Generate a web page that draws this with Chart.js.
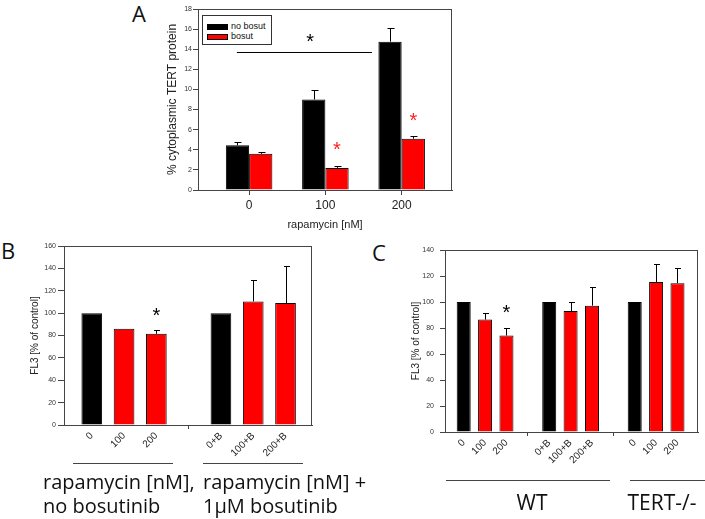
<!DOCTYPE html>
<html lang="en">
<head>
<meta charset="utf-8">
<title>TERT localisation, rapamycin and bosutinib</title>
<script src="https://cdn.jsdelivr.net/npm/chart.js@4.4.1/dist/chart.umd.min.js"></script>
<style>
  body { margin: 0; width: 705px; height: 519px; position: relative; background: #fff; overflow: hidden;
         font-family: "Open Sans", "Noto Sans", sans-serif; color: #111; }
  canvas, .abs { position: absolute; }
  .letter { font-size: 22px; line-height: 22px; }
  .big { font-size: 20px; line-height: 24px; white-space: nowrap; }
  .rule { height: 1px; background: #444; }
  .legend { border: 1px solid #333; background: #fff; font-family: "Liberation Sans", Arial, sans-serif;
            font-size: 9px; line-height: 10px; }
  .legend .sw { display: inline-block; width: 19px; height: 4px; border: 1px solid #000; vertical-align: middle; margin-right: 3px; }
</style>
</head>
<body>
<div class="abs letter" style="left:132px;top:2px">A</div>
<div class="abs letter" style="left:1px;top:239px">B</div>
<div class="abs letter" style="left:372px;top:241px">C</div>

<canvas id="chartA" width="355" height="240" style="left:110px;top:0"></canvas>
<canvas id="chartB" width="330" height="235" style="left:0;top:230px"></canvas>
<canvas id="chartC" width="325" height="230" style="left:380px;top:235px"></canvas>

<div class="abs legend" style="left:202px;top:15px;width:68px;height:28px;padding:0">
  <div style="position:absolute;left:4px;top:5px"><span class="sw" style="background:#000"></span>no bosut</div>
  <div style="position:absolute;left:4px;top:15px"><span class="sw" style="background:#ff0000"></span>bosut</div>
</div>

<div class="abs rule" style="left:73px;top:463px;width:100px"></div>
<div class="abs rule" style="left:203px;top:463px;width:100px"></div>
<div class="abs big" style="left:43px;top:470px">rapamycin [nM],<br>no bosutinib</div>
<div class="abs big" style="left:203px;top:470px">rapamycin [nM] +<br>1&mu;M bosutinib</div>

<div class="abs rule" style="left:446px;top:480px;width:164px"></div>
<div class="abs rule" style="left:630px;top:480px;width:75px"></div>
<div class="abs big" style="left:502px;top:490px;width:60px;text-align:center;font-size:21px">WT</div>
<div class="abs big" style="left:622px;top:490px;width:80px;text-align:center;font-size:21px">TERT-/-</div>

<script>
// panel A: % cytoplasmic TERT protein
var aDoses = ['0', '100', '200'];
var aNoBosut = [4.45, 9.0, 14.75];
var aNoBosutErr = [0.3, 0.9, 1.35];
var aBosut = [3.6, 2.2, 5.1];
var aBosutErr = [0.15, 0.2, 0.25];
var aStars = [1, 2];           // red stars over the bosut bars

// panel B: FL3, without / with bosutinib
var bLabels = ['0', '100', '200', '', '0+B', '100+B', '200+B'];
var bValues = [100, 86, 81.5, null, 100, 110.5, 109];
var bErr = [0, 0, 3, null, 0, 19.5, 33];
var bStars = [2];

// panel C: FL3, WT and TERT-/-
var cLabels = ['0', '100', '200', '', '0+B', '100+B', '200+B', '', '0', '100', '200'];
var cValues = [100, 86.5, 74.2, null, 100, 93, 97.2, null, 100, 115.3, 114.5];
var cErr = [0, 5.2, 5.5, null, 0, 7, 14, null, 0, 14, 12];
var cStars = [2];

Chart.defaults.font.family = '"Liberation Sans", Arial, sans-serif';
Chart.defaults.color = '#222';
Chart.defaults.animation = false;

// error bars, asterisks and the box round the plot
var extras = {
  id: 'extras',
  afterDatasetsDraw: function(chart, args, opts) {
    var ctx = chart.ctx, area = chart.chartArea, ys = chart.scales.y, xs = chart.scales.x;
    ctx.save();
    ctx.lineWidth = 1;
    ctx.strokeStyle = '#000';
    var tops = {};
    chart.data.datasets.forEach(function(ds, di) {
      var meta = chart.getDatasetMeta(di);
      meta.data.forEach(function(bar, j) {
        var p = ds.data[j];
        var top = ys.getPixelForValue(p.y + (p.err || 0));
        tops[di + ':' + p.x] = {x: bar.x, y: top};
        if (!p.err) return;
        var bx = Math.round(bar.x) + 0.5, ty = Math.round(top) + 0.5;
        ctx.beginPath();
        ctx.moveTo(bx, bar.y);
        ctx.lineTo(bx, ty);
        ctx.moveTo(bx - opts.cap, ty);
        ctx.lineTo(bx + opts.cap + 1, ty);
        ctx.stroke();
      });
    });
    ctx.textAlign = 'center';
    ctx.textBaseline = 'middle';
    ctx.font = '20px "Liberation Sans", Arial, sans-serif';
    (opts.stars || []).forEach(function(s) {
      var t = tops[s.ds + ':' + s.x];
      ctx.fillStyle = s.color;
      ctx.fillText('*', t.x, t.y - s.off + 5);
    });
    if (opts.bracket) {
      var b = opts.bracket;
      var by = Math.round(ys.getPixelForValue(b.y)) + 0.5;
      ctx.beginPath();
      ctx.moveTo(xs.getPixelForValue(b.from), by);
      ctx.lineTo(xs.getPixelForValue(b.to), by);
      ctx.stroke();
      ctx.fillStyle = '#000';
      ctx.fillText('*', xs.getPixelForValue(b.starX), ys.getPixelForValue(b.starY) + 5);
    }
    ctx.strokeStyle = '#444';
    ctx.strokeRect(Math.round(area.left) + 0.5, Math.round(area.top) + 0.5,
                   Math.round(area.width) - 1, Math.round(area.height));
    ctx.restore();
  }
};

function points(values, errs) {
  var out = [];
  values.forEach(function(v, i) {
    if (v !== null) out.push({x: i, y: v, err: errs[i]});
  });
  return out;
}

function isControl(labels, i) {
  return labels[i] === '0' || labels[i] === '0+B';
}

function yScale(max, step, title, axisW, tickLen, pad, titlePad, titleSize) {
  return {
    min: 0, max: max,
    ticks: { stepSize: step, font: { size: 7 }, color: '#333', padding: pad },
    grid: { drawOnChartArea: false, tickLength: tickLen, tickColor: '#444' },
    border: { color: '#444' },
    title: { display: true, text: title, font: { size: titleSize }, color: '#222', padding: { top: titlePad, bottom: 0 } },
    afterFit: function(s) { s.width = axisW; }
  };
}

function xScale(labels, min, max, axisH, opts) {
  return {
    type: 'linear', min: min, max: max, bounds: 'data', offset: false,
    afterBuildTicks: function(s) { s.ticks = labels.map(function(_, i) { return {value: i}; }); },
    ticks: {
      autoSkip: false, padding: opts.pad, font: { size: opts.size }, color: '#222',
      minRotation: opts.rot, maxRotation: opts.rot,
      callback: function(v) { return labels[v]; }
    },
    grid: {
      drawOnChartArea: false, offset: false, tickLength: opts.tickLen,
      tickColor: function(c) {
        if (opts.tickAll) return '#444';
        return c.tick && labels[c.tick.value] === '' ? '#444' : 'rgba(0,0,0,0)';
      }
    },
    border: { color: '#444' },
    title: opts.title ? { display: true, text: opts.title, font: { size: 11 }, color: '#222', padding: { top: 0, bottom: 8 } } : { display: false },
    afterFit: function(s) { s.height = axisH; }
  };
}

// panel A
new Chart(document.getElementById('chartA'), {
  type: 'bar',
  data: {
    datasets: [
      { label: 'no bosut', data: points(aNoBosut, aNoBosutErr), backgroundColor: '#000', borderColor: '#000', borderWidth: 1,
        categoryPercentage: 0.61, barPercentage: 1 },
      { label: 'bosut', data: points(aBosut, aBosutErr), backgroundColor: '#ff0000', borderColor: '#000', borderWidth: 1,
        categoryPercentage: 0.61, barPercentage: 1 }
    ]
  },
  options: {
    responsive: false, events: [],
    layout: { padding: { top: 9, right: 13, left: 0, bottom: 0 } },
    scales: {
      x: xScale(aDoses, -0.67, 2.66, 50, { pad: 3, size: 12, rot: 0, tickLen: 5, tickAll: true, title: 'rapamycin [nM]' }),
      y: yScale(18, 2, '% cytoplasmic TERT protein', 88, 5, 1, 55, 12)
    },
    plugins: {
      legend: { display: false }, tooltip: { enabled: false },
      extras: {
        cap: 3,
        stars: aStars.map(function(i) { return {ds: 1, x: i, off: 20, color: '#ff2020'}; }),
        bracket: { from: -0.16, to: 1.61, y: 13.7, starX: 0.8, starY: 15.2 }
      }
    }
  },
  plugins: [extras]
});

// panel B
new Chart(document.getElementById('chartB'), {
  type: 'bar',
  data: {
    datasets: [{
      label: 'FL3', data: points(bValues, bErr),
      backgroundColor: function(c) { return isControl(bLabels, c.raw.x) ? '#000' : '#ff0000'; },
      borderColor: '#000', borderWidth: 1, categoryPercentage: 0.64, barPercentage: 1
    }]
  },
  options: {
    responsive: false, events: [],
    layout: { padding: { top: 16, right: 18, left: 0, bottom: 0 } },
    scales: {
      x: xScale(bLabels, -0.86, 6.82, 40, { pad: 1, size: 10, rot: 45, tickLen: 4 }),
      y: yScale(160, 20, 'FL3 [% of control]', 64, 6, 2, 29, 10)
    },
    plugins: {
      legend: { display: false }, tooltip: { enabled: false },
      extras: { cap: 2.5, stars: bStars.map(function(i) { return {ds: 0, x: i, off: 19, color: '#000'}; }) }
    }
  },
  plugins: [extras]
});

// panel C
new Chart(document.getElementById('chartC'), {
  type: 'bar',
  data: {
    datasets: [{
      label: 'FL3', data: points(cValues, cErr),
      backgroundColor: function(c) { return isControl(cLabels, c.raw.x) ? '#000' : '#ff0000'; },
      borderColor: '#000', borderWidth: 1, categoryPercentage: 0.655, barPercentage: 1
    }]
  },
  options: {
    responsive: false, events: [],
    layout: { padding: { top: 15, right: 7, left: 0, bottom: 0 } },
    scales: {
      x: xScale(cLabels, -0.875, 10.96, 33, { pad: 1, size: 10, rot: 45, tickLen: 4 }),
      y: yScale(140, 20, 'FL3 [% of control]', 65, 5, 6, 30.7, 10)
    },
    plugins: {
      legend: { display: false }, tooltip: { enabled: false },
      extras: { cap: 2.5, stars: cStars.map(function(i) { return {ds: 0, x: i, off: 20, color: '#000'}; }) }
    }
  },
  plugins: [extras]
});
</script>
</body>
</html>
